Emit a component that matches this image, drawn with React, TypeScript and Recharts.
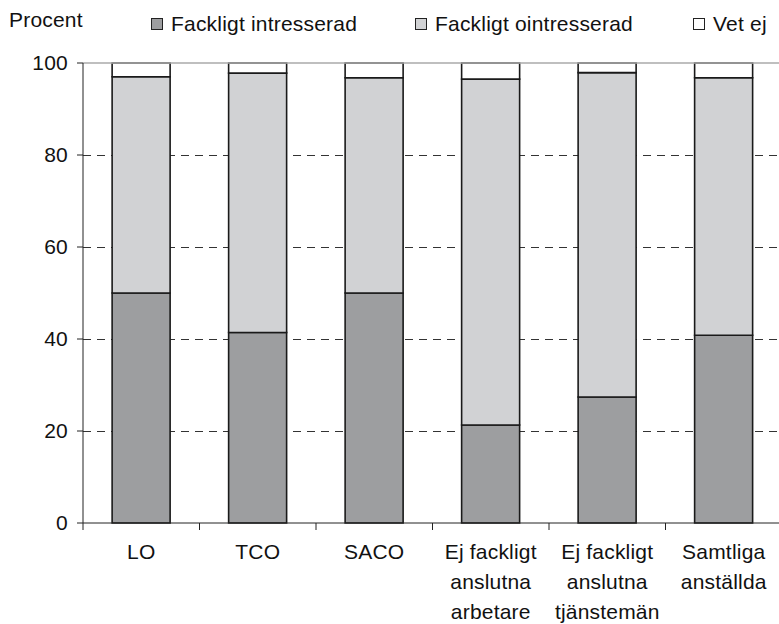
import { Bar, BarChart, CartesianGrid, Legend, ReferenceLine, XAxis, YAxis } from 'recharts';

const categories = [
  'LO',
  'TCO',
  'SACO',
  'Ej fackligt\nanslutna\narbetare',
  'Ej fackligt\nanslutna\ntjänstemän',
  'Samtliga\nanställda',
];
const intresserad = [50, 41.4, 50, 21.3, 27.4, 40.8];
const ointresserad = [47, 56.4, 46.8, 75.2, 70.5, 56];
const vetEj = [3, 2.2, 3.2, 3.5, 2.1, 3.2];
const yTicks = [0, 20, 40, 60, 80, 100];
const gridTicks = [20, 40, 60, 80];

const data = categories.map((name, i) => ({
  name,
  intresserad: intresserad[i],
  ointresserad: ointresserad[i],
  vetEj: vetEj[i],
}));

const FONT = '"Liberation Sans", Arial, sans-serif';
const FS = 21;
const LS = 0.2;
const legendX = [151, 415, 693];

function XTick(props: any) {
  const { x, y, payload } = props;
  const half = payload.offset ?? 58;
  const lines = String(payload.value).split('\n');
  return (
    <g>
      <line x1={x - half} x2={x - half} y1={y - 7} y2={y} stroke="#222" strokeWidth={1} />
      <text x={x} y={y} textAnchor="middle" fontSize={FS} letterSpacing={LS} fill="#111" fontFamily={FONT}>
        {lines.map((l, i) => (
          <tspan key={i} x={x} dy={i === 0 ? 29 : 30}>
            {l}
          </tspan>
        ))}
      </text>
    </g>
  );
}

function LegendBox({ payload }: any) {
  return (
    <div style={{ position: 'relative', width: 779, height: 26, fontFamily: FONT, fontSize: FS, letterSpacing: LS, color: '#111' }}>
      {(payload || []).map((p: any, i: number) => (
        <div
          key={p.value}
          style={{ position: 'absolute', left: legendX[i], top: 0, display: 'flex', alignItems: 'center', whiteSpace: 'nowrap' }}
        >
          <span
            style={{
              display: 'inline-block',
              width: 10,
              height: 10,
              border: '1.5px solid #222',
              background: p.color,
              marginRight: 8,
            }}
          />
          <span>{p.value}</span>
        </div>
      ))}
    </div>
  );
}

export default function App() {
  return (
    <div
      style={{
        position: 'absolute',
        left: 0,
        top: 0,
        width: 779,
        height: 624,
        overflow: 'hidden',
        background: '#fff',
        fontFamily: FONT,
      }}
    >
      <BarChart
        width={784}
        height={624}
        data={data}
        barCategoryGap="25%"
        margin={{ top: 63, right: 2, bottom: 0, left: 0 }}
      >
        <CartesianGrid
          vertical={false}
          stroke="#333"
          strokeDasharray="8 6"
          horizontalCoordinatesGenerator={({ offset }: any) =>
            gridTicks.map((v) => Math.round(offset.top + offset.height * (1 - v / 100)) + 0.5)
          }
        />
        <ReferenceLine y={100} stroke="#aaa" strokeWidth={1.5} />
        <XAxis
          dataKey="name"
          tickLine={false}
          tickSize={7}
          tickMargin={0}
          axisLine={{ stroke: '#222' }}
          tick={<XTick />}
          interval={0}
          height={101}
        />
        <YAxis
          domain={[0, 100]}
          ticks={yTicks}
          width={83}
          tickSize={6}
          tickMargin={9}
          axisLine={{ stroke: '#222' }}
          tickLine={{ stroke: '#222' }}
          tick={{ fontSize: FS, fill: '#111', fontFamily: FONT, letterSpacing: LS }}
          label={({ viewBox }: any) => (
            <text x={9} y={viewBox.y - 36} fontSize={FS} letterSpacing={LS} fill="#111" fontFamily={FONT}>
              Procent
            </text>
          )}
        />
        <Legend
          layout="horizontal"
          verticalAlign="middle"
          content={<LegendBox />}
          wrapperStyle={{ top: 12, left: 0, width: 779 }}
        />
        <Bar dataKey="intresserad" name="Fackligt intresserad" stackId="a" fill="#9d9ea0" stroke="#1a1a1a" strokeWidth={1.6} isAnimationActive={false} />
        <Bar dataKey="ointresserad" name="Fackligt ointresserad" stackId="a" fill="#d1d2d4" stroke="#1a1a1a" strokeWidth={1.6} isAnimationActive={false} />
        <Bar dataKey="vetEj" name="Vet ej" stackId="a" fill="#ffffff" stroke="#1a1a1a" strokeWidth={1.6} isAnimationActive={false} />
      </BarChart>
    </div>
  );
}
